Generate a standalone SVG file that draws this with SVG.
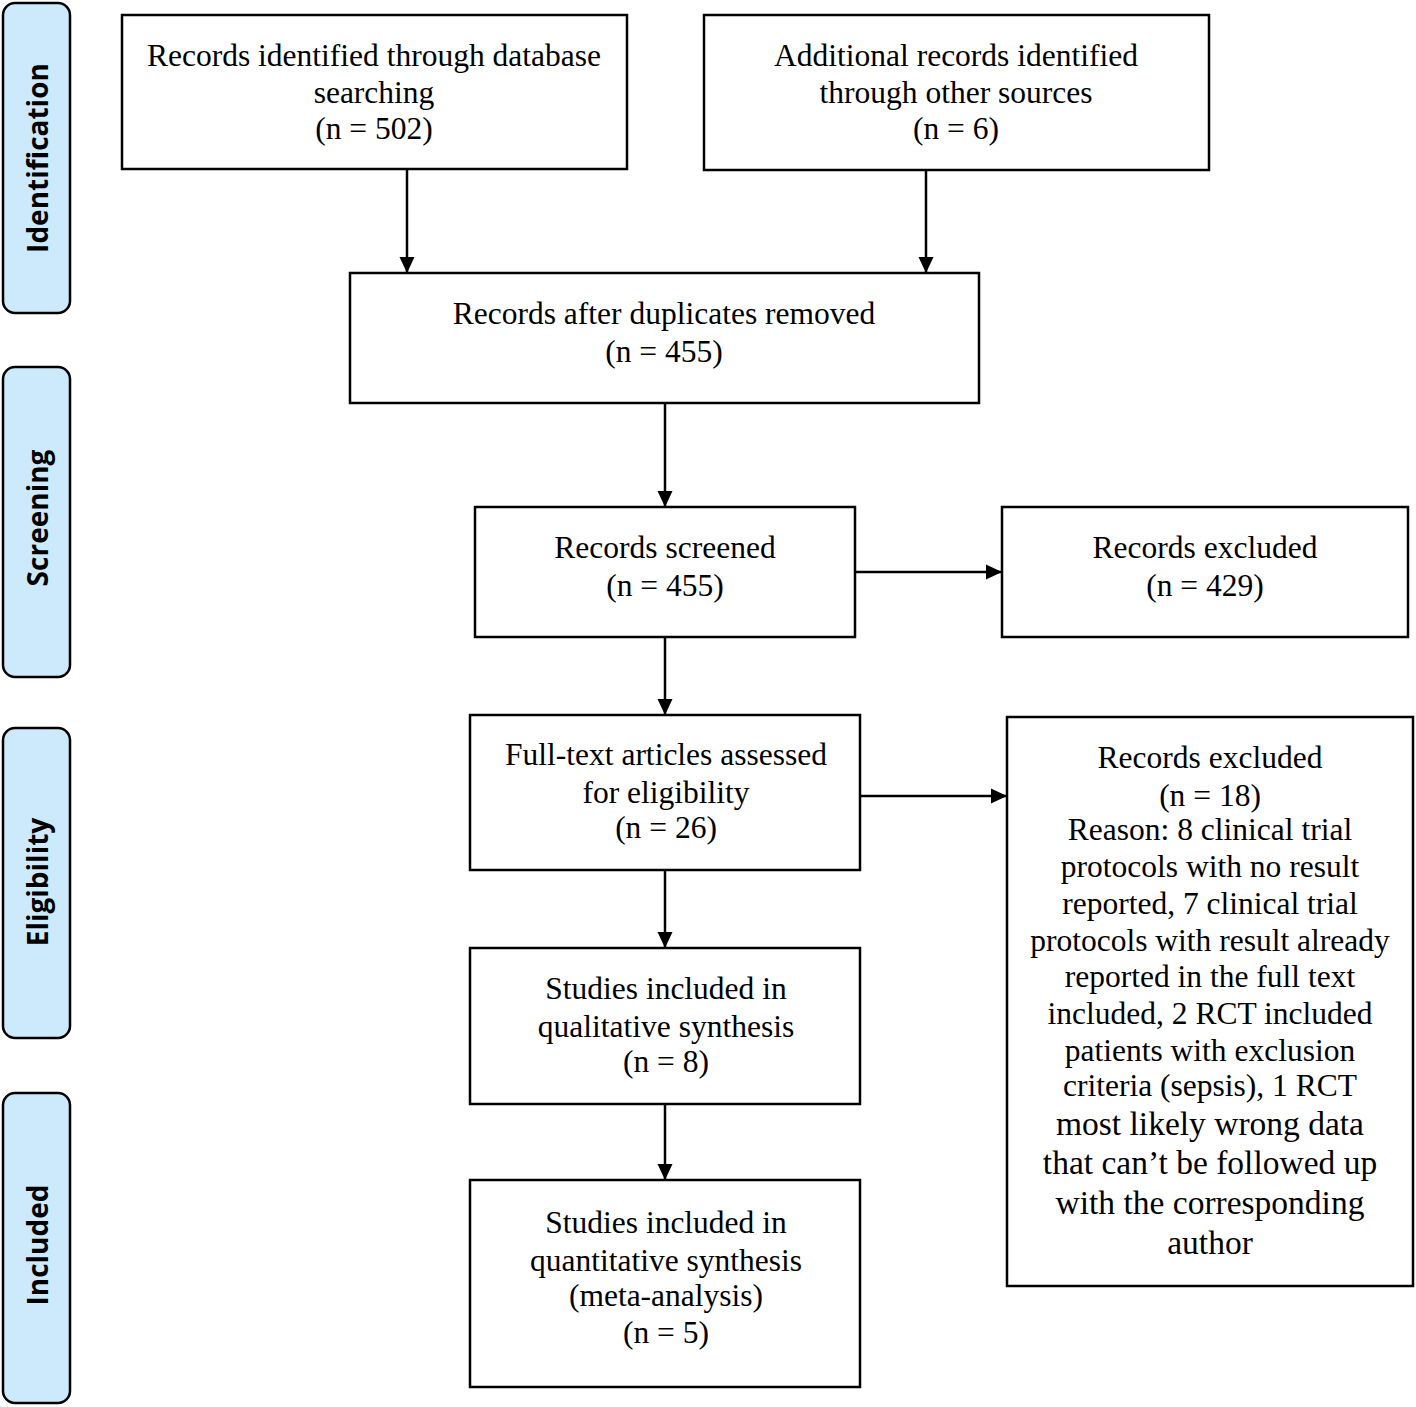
<svg xmlns="http://www.w3.org/2000/svg" width="1416" height="1407" viewBox="0 0 1416 1407">
<defs>
<marker id="ah" markerWidth="16" markerHeight="16" refX="15" refY="7.5" orient="auto" markerUnits="userSpaceOnUse" viewBox="0 0 16 15">
<path d="M0,0 L16,7.5 L0,15 z" fill="#000"/>
</marker>
<style>
.box{fill:#fff;stroke:#000;stroke-width:2.5}
.stage{fill:#cdeafc;stroke:#000;stroke-width:2.5}
.t{font-family:"Liberation Serif","Times New Roman",serif;font-size:31.5px;fill:#000;text-anchor:middle}
.s{font-family:"Open Sans","Liberation Sans",sans-serif;font-size:28px;font-weight:bold;fill:#000;text-anchor:middle}
.c{stroke:#000;stroke-width:2.5;fill:none;marker-end:url(#ah)}
</style>
</defs>
<rect width="1416" height="1407" fill="#fff"/>
<g id="stage-identification"><rect class="stage" x="3" y="3" width="67" height="310" rx="12"/><text class="s" transform="translate(48,158) rotate(-90)">Identification</text></g>
<g id="stage-screening"><rect class="stage" x="3" y="367" width="67" height="310" rx="12"/><text class="s" transform="translate(48,518) rotate(-90)">Screening</text></g>
<g id="stage-eligibility"><rect class="stage" x="3" y="728" width="67" height="310" rx="12"/><text class="s" transform="translate(48,882) rotate(-90)">Eligibility</text></g>
<g id="stage-included"><rect class="stage" x="3" y="1093" width="67" height="310" rx="12"/><text class="s" transform="translate(48,1245) rotate(-90)">Included</text></g>

<g id="n-db"><rect class="box" x="122" y="15" width="505" height="154"/><text class="t" x="374" y="66">Records identified through database</text><text class="t" x="374" y="103">searching</text><text class="t" x="374" y="139">(n = 502)</text></g>
<g id="n-other"><rect class="box" x="704" y="15" width="505" height="155"/><text class="t" x="956" y="66">Additional records identified</text><text class="t" x="956" y="103">through other sources</text><text class="t" x="956" y="139">(n = 6)</text></g>
<g id="n-dup"><rect class="box" x="350" y="273" width="629" height="130"/><text class="t" x="664" y="324">Records after duplicates removed</text><text class="t" x="664" y="362">(n = 455)</text></g>
<g id="n-screened"><rect class="box" x="475" y="507" width="380" height="130"/><text class="t" x="665" y="558">Records screened</text><text class="t" x="665" y="596">(n = 455)</text></g>
<g id="n-excl1"><rect class="box" x="1002" y="507" width="406" height="130"/><text class="t" x="1205" y="558">Records excluded</text><text class="t" x="1205" y="596">(n = 429)</text></g>
<g id="n-fulltext"><rect class="box" x="470" y="715" width="390" height="155"/><text class="t" x="666" y="765">Full-text articles assessed</text><text class="t" x="666" y="803">for eligibility</text><text class="t" x="666" y="838">(n = 26)</text></g>
<g id="n-excl2"><rect class="box" x="1007" y="717" width="406" height="569"/>
<text class="t" x="1210" y="768">Records excluded</text>
<text class="t" x="1210" y="806">(n = 18)</text>
<text class="t" x="1210" y="840">Reason: 8 clinical trial</text>
<text class="t" x="1210" y="877">protocols with no result</text>
<text class="t" x="1210" y="914">reported, 7 clinical trial</text>
<text class="t" x="1210" y="951">protocols with result already</text>
<text class="t" x="1210" y="987">reported in the full text</text>
<text class="t" x="1210" y="1024">included, 2 RCT included</text>
<text class="t" x="1210" y="1061">patients with exclusion</text>
<text class="t" x="1210" y="1096">criteria (sepsis), 1 RCT</text>
<text class="t" x="1210" y="1135" style="font-size:33.5px">most likely wrong data</text>
<text class="t" x="1210" y="1174" style="font-size:33.5px">that can’t be followed up</text>
<text class="t" x="1210" y="1214" style="font-size:33.5px">with the corresponding</text>
<text class="t" x="1210" y="1254" style="font-size:33.5px">author</text>
</g>
<g id="n-qual"><rect class="box" x="470" y="948" width="390" height="156"/><text class="t" x="666" y="999">Studies included in</text><text class="t" x="666" y="1037">qualitative synthesis</text><text class="t" x="666" y="1072">(n = 8)</text></g>
<g id="n-quant"><rect class="box" x="470" y="1180" width="390" height="207"/><text class="t" x="666" y="1233">Studies included in</text><text class="t" x="666" y="1271">quantitative synthesis</text><text class="t" x="666" y="1306">(meta-analysis)</text><text class="t" x="666" y="1343">(n = 5)</text></g>

<g id="connectors">
<line class="c" x1="407" y1="169" x2="407" y2="272"/>
<line class="c" x1="926" y1="170" x2="926" y2="272"/>
<line class="c" x1="665" y1="403" x2="665" y2="506"/>
<line class="c" x1="855" y1="572" x2="1001" y2="572"/>
<line class="c" x1="665" y1="637" x2="665" y2="714"/>
<line class="c" x1="860" y1="796" x2="1006" y2="796"/>
<line class="c" x1="665" y1="870" x2="665" y2="947"/>
<line class="c" x1="665" y1="1104" x2="665" y2="1179"/>
</g>
</svg>
